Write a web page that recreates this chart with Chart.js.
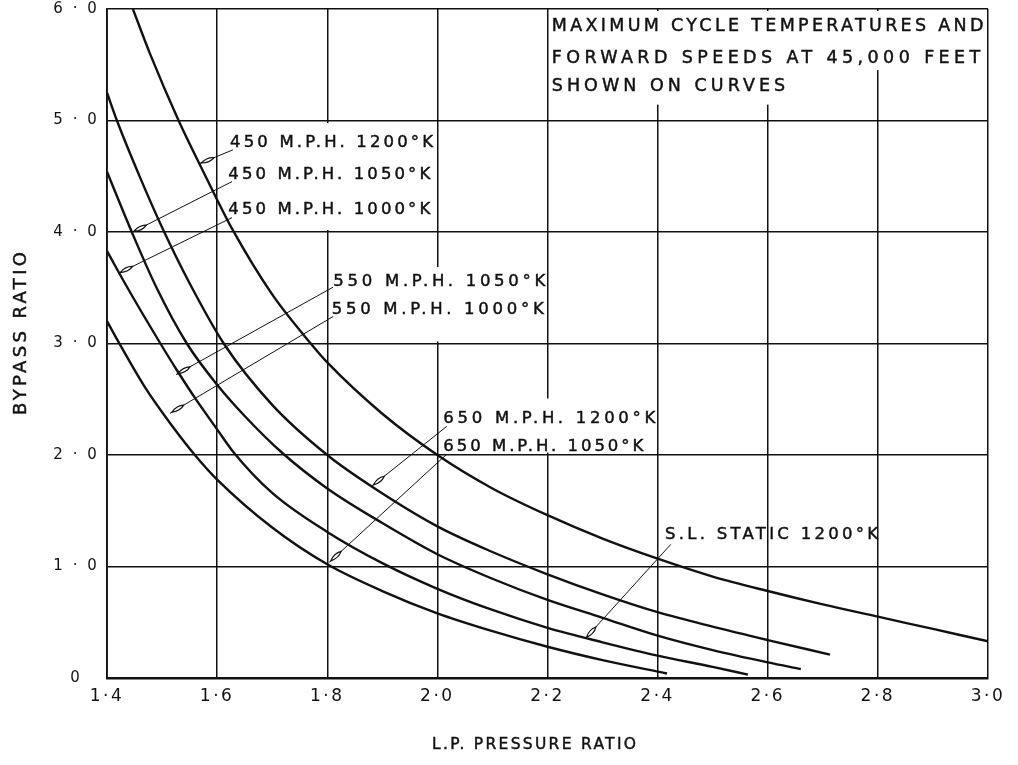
<!DOCTYPE html>
<html>
<head>
<meta charset="utf-8">
<script src="https://cdn.jsdelivr.net/npm/chart.js@4.4.1/dist/chart.umd.min.js"></script>
<style>
html,body{margin:0;padding:0;background:#fff;}
#wrap{width:1018px;height:765px;position:relative;}
</style>
</head>
<body>
<div id="wrap"><canvas id="c" width="1018" height="765"></canvas></div>
<script>
// ---- axis ticks ----
const xTickValues = [1.4, 1.6, 1.8, 2.0, 2.2, 2.4, 2.6, 2.8, 3.0];
const xTickLabels = ['1·4', '1·6', '1·8', '2·0', '2·2', '2·4', '2·6', '2·8', '3·0'];
const yTickValues = [0, 1, 2, 3, 4, 5, 6];
const yTickLabels = ['0', '1 · 0', '2 · 0', '3 · 0', '4 · 0', '5 · 0', '6 · 0'];
const xTitle = 'L.P. PRESSURE RATIO';
const yTitle = 'BYPASS RATIO';

// ---- curves (L.P. pressure ratio -> bypass ratio) ----
const curve1X = [1.400, 1.426, 1.470, 1.514, 1.563, 1.600, 1.700, 1.800, 1.900, 2.000, 2.100, 2.200, 2.300, 2.417];
const curve1Y = [3.20, 2.97, 2.60, 2.29, 1.98, 1.78, 1.35, 1.02, 0.78, 0.58, 0.42, 0.28, 0.16, 0.04];

const curve2X = [1.400, 1.420, 1.450, 1.497, 1.527, 1.560, 1.600, 1.629, 1.700, 1.800, 1.900, 2.000, 2.100, 2.200, 2.300, 2.400, 2.500, 2.564];
const curve2Y = [3.83, 3.65, 3.39, 3.00, 2.76, 2.51, 2.23, 2.03, 1.66, 1.31, 1.03, 0.80, 0.61, 0.45, 0.32, 0.20, 0.10, 0.03];

const curve3X = [1.400, 1.445, 1.490, 1.545, 1.600, 1.650, 1.718, 1.800, 1.900, 2.000, 2.100, 2.200, 2.300, 2.400, 2.500, 2.600, 2.660];
const curve3Y = [4.54, 4.00, 3.50, 3.00, 2.63, 2.35, 2.02, 1.70, 1.39, 1.11, 0.89, 0.70, 0.54, 0.38, 0.25, 0.14, 0.08];

const curve4X = [1.400, 1.418, 1.460, 1.502, 1.550, 1.612, 1.700, 1.800, 1.880, 2.000, 2.100, 2.200, 2.300, 2.400, 2.500, 2.600, 2.713];
const curve4Y = [5.25, 5.00, 4.49, 4.02, 3.54, 3.00, 2.45, 2.00, 1.72, 1.36, 1.13, 0.93, 0.75, 0.59, 0.46, 0.34, 0.21];

const curve5X = [1.447, 1.478, 1.530, 1.568, 1.600, 1.627, 1.700, 1.770, 1.800, 1.900, 2.000, 2.100, 2.200, 2.300, 2.400, 2.500, 2.600, 2.700, 2.800, 2.900, 3.000];
const curve5Y = [6.00, 5.60, 5.00, 4.61, 4.29, 4.03, 3.44, 3.00, 2.83, 2.37, 2.00, 1.70, 1.46, 1.25, 1.07, 0.91, 0.78, 0.66, 0.55, 0.44, 0.33];

const curvesX = [curve1X, curve2X, curve3X, curve4X, curve5X];
const curvesY = [curve1Y, curve2Y, curve3Y, curve4Y, curve5Y];

// ---- curve labels (data units: text start, text end, baseline; leader start -> tip) ----
const curveLabels = [
  {text: '450 M.P.H. 1200°K', x0: 1.6234, x1: 1.9921, y: 4.765, from: [1.6288, 4.737], to: [1.5676, 4.612]},
  {text: '450 M.P.H. 1050°K', x0: 1.6203, x1: 1.9872, y: 4.479, from: [1.6270, 4.452], to: [1.4454, 3.997]},
  {text: '450 M.P.H. 1000°K', x0: 1.6203, x1: 1.9872, y: 4.157, from: [1.6270, 4.129], to: [1.4205, 3.628]},
  {text: '550 M.P.H. 1050°K', x0: 1.8110, x1: 2.1960, y: 3.516, from: [1.8105, 3.505], to: [1.5253, 2.721]},
  {text: '550 M.P.H. 1000°K', x0: 1.8081, x1: 2.1931, y: 3.261, from: [1.8110, 3.243], to: [1.5144, 2.374]},
  {text: '650 M.P.H. 1200°K', x0: 2.0108, x1: 2.3958, y: 2.286, from: [2.0170, 2.257], to: [1.8808, 1.720]},
  {text: '650 M.P.H. 1050°K', x0: 2.0108, x1: 2.3740, y: 2.037, from: [2.0170, 2.007], to: [1.8037, 1.038]},
  {text: 'S.L. STATIC 1200°K', x0: 2.4134, x1: 2.8003, y: 1.246, from: [2.4238, 1.198], to: [2.2682, 0.351]}
];
const noteLines = [
  {text: 'MAXIMUM CYCLE TEMPERATURES AND', x0: 2.2077, x1: 2.9916, y: 5.802},
  {text: 'FORWARD SPEEDS AT 45,000 FEET', x0: 2.2077, x1: 2.9856, y: 5.513},
  {text: 'SHOWN ON CURVES', x0: 2.2077, x1: 2.6314, y: 5.269}
];
// white areas behind lettering (data units: xmin, xmax, ymin, ymax)
const clearAreas = [
  [1.6161, 1.9957, 4.018, 4.977],
  [1.8050, 2.1955, 3.018, 3.685],
  [2.0048, 2.3971, 2.022, 2.507],
  [2.2028, 2.9964, 5.452, 5.982],
  [2.2028, 2.6604, 5.142, 5.452]
];

const INK = '#111111';
const FONT = '"DejaVu Sans", "Liberation Sans", sans-serif';

function spacedText(ctx, text, px0, px1, py, size, baseline) {
  ctx.font = size + 'px ' + FONT;
  ctx.letterSpacing = '0px';
  const w = ctx.measureText(text).width;
  const ls = (px1 - px0 - w) / Math.max(1, text.length - 1);
  ctx.letterSpacing = ls.toFixed(2) + 'px';
  ctx.textAlign = 'left';
  ctx.textBaseline = baseline || 'alphabetic';
  ctx.fillStyle = INK;
  ctx.strokeStyle = INK;
  ctx.lineWidth = 0.45;
  ctx.fillText(text, px0, py);
  ctx.strokeText(text, px0, py);
  ctx.letterSpacing = '0px';
}

const spacingPlugin = {
  id: 'spacing',
  beforeDraw(chart) { chart.ctx.letterSpacing = '2.5px'; },
  beforeDatasetsDraw(chart) { chart.ctx.letterSpacing = '0px'; }
};

const annotPlugin = {
  id: 'annot',
  beforeDatasetsDraw(chart) {
    const {ctx, scales: {x, y}} = chart;
    ctx.save();
    ctx.fillStyle = '#fff';
    clearAreas.forEach(a => {
      const l = x.getPixelForValue(a[0]), r = x.getPixelForValue(a[1]);
      const t = y.getPixelForValue(a[3]), b = y.getPixelForValue(a[2]);
      ctx.fillRect(l, t, r - l, b - t);
    });
    ctx.restore();
  },
  afterDatasetsDraw(chart) {
    const {ctx, scales: {x, y}} = chart;
    ctx.save();
    curveLabels.forEach(lb => {
      const sx = x.getPixelForValue(lb.from[0]), sy = y.getPixelForValue(lb.from[1]);
      const tx = x.getPixelForValue(lb.to[0]), ty = y.getPixelForValue(lb.to[1]);
      ctx.strokeStyle = INK;
      ctx.lineWidth = 1;
      ctx.beginPath();
      ctx.moveTo(sx, sy);
      ctx.lineTo(tx, ty);
      ctx.stroke();
      const len = Math.hypot(sx - tx, sy - ty);
      const ux = (sx - tx) / len, uy = (sy - ty) / len;
      const cx = tx + ux * 10, cy = ty + uy * 10;
      ctx.beginPath();
      ctx.moveTo(tx + ux * 2, ty + uy * 2);
      ctx.quadraticCurveTo(cx - uy * 3.4, cy + ux * 3.4, tx + ux * 16, ty + uy * 16);
      ctx.quadraticCurveTo(cx + uy * 3.4, cy - ux * 3.4, tx + ux * 2, ty + uy * 2);
      ctx.closePath();
      ctx.fillStyle = '#fff';
      ctx.fill();
      ctx.lineWidth = 1.2;
      ctx.stroke();
    });
    curveLabels.forEach(lb => {
      spacedText(ctx, lb.text, x.getPixelForValue(lb.x0), x.getPixelForValue(lb.x1), y.getPixelForValue(lb.y), 16.5);
    });
    noteLines.forEach(lb => {
      spacedText(ctx, lb.text, x.getPixelForValue(lb.x0), x.getPixelForValue(lb.x1), y.getPixelForValue(lb.y), 17.5);
    });
    ctx.restore();
  },
  afterDraw(chart) {
    const ctx = chart.ctx;
    ctx.save();
    // x axis title
    spacedText(ctx, xTitle, 432, 636, 745, 15.5, 'middle');
    // y axis title (reads bottom to top)
    ctx.translate(21, 333.5);
    ctx.rotate(-Math.PI / 2);
    spacedText(ctx, yTitle, -81.5, 81.5, 0, 18, 'middle');
    ctx.restore();
  }
};

const datasets = curvesX.map((xs, k) => ({
  label: 'curve ' + (k + 1),
  data: xs.map((v, i) => ({x: v, y: curvesY[k][i]})),
  borderColor: INK,
  borderWidth: 2.4,
  pointRadius: 0,
  fill: false,
  tension: 0,
  cubicInterpolationMode: 'monotone'
}));

new Chart(document.getElementById('c'), {
  type: 'line',
  data: {datasets},
  options: {
    responsive: false,
    animation: false,
    devicePixelRatio: 1,
    layout: {padding: {top: 9, right: 30, left: 0, bottom: 0}},
    plugins: {legend: {display: false}, tooltip: {enabled: false}},
    scales: {
      x: {
        type: 'linear', min: 1.4, max: 3.0,
        afterBuildTicks: s => { s.ticks = xTickValues.map(v => ({value: v})); },
        afterFit: s => { s.height = 87; },
        ticks: {
          callback: v => xTickLabels[xTickValues.findIndex(t => Math.abs(t - v) < 1e-6)],
          font: {family: FONT, size: 17, lineHeight: 1},
          color: INK, padding: 10, maxRotation: 0, autoSkip: false
        },
        grid: {color: INK, lineWidth: 1.5, drawTicks: false},
        border: {color: INK, width: 2.6},
        title: {display: false, text: xTitle}
      },
      y: {
        type: 'linear', min: 0, max: 6,
        afterBuildTicks: s => { s.ticks = yTickValues.map(v => ({value: v})); },
        afterFit: s => { s.width = 107; },
        ticks: {
          callback: v => yTickLabels[yTickValues.findIndex(t => Math.abs(t - v) < 1e-6)],
          font: {family: FONT, size: 15, lineHeight: 1},
          color: INK, padding: 0, crossAlign: 'center', autoSkip: false
        },
        grid: {color: INK, lineWidth: 1.5, drawTicks: true, tickLength: 14, tickColor: 'rgba(0,0,0,0)'},
        border: {color: INK, width: 1.8},
        title: {display: false, text: yTitle}
      }
    }
  },
  plugins: [spacingPlugin, annotPlugin]
});
</script>
</body>
</html>
